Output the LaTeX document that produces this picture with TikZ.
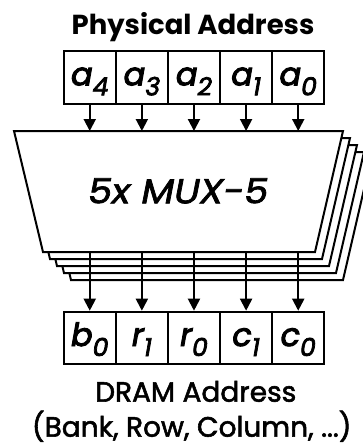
\documentclass[tikz,border=0pt]{standalone}
\usepackage{fontspec}
\usepackage{graphicx}
\setmainfont{Poppins}
\newfontfamily\medfont{Poppins}[FakeBold=2]
\newfontfamily\cellfont{Poppins}[FakeBold=3]
\usetikzlibrary{arrows.meta}
\newcommand{\sbx}[2]{#1\raisebox{-10pt}{\fontsize{25}{25}\selectfont #2}}
\begin{document}
\begin{tikzpicture}[x=1pt,y=-1pt,
  cell/.style={draw,line width=2pt,minimum width=52.1pt,minimum height=52.7pt,
    inner sep=0pt,text height=34.3pt,text depth=18.4pt,anchor=north west,
    font=\fontsize{32}{32}\selectfont\cellfont\itshape},
  arr/.style={line width=2pt,-{Triangle[width=12pt,length=12pt]}},
  layer/.style={draw,line width=2pt,fill=white,line join=miter},
  lbl/.style={anchor=base,inner sep=0pt}]
\useasboundingbox (0,0) rectangle (363,448);
% title
\node[lbl,font=\fontsize{27.5}{27.5}\selectfont\bfseries] (title) at (193,34.3) {Physical Address};
% top cells
\foreach \n/\s [count=\i from 0] in {a4/4,a3/3,a2/2,a1/1,a0/0}
  \node[cell] (\n) at ({62.7+52.12*\i},50) {\sbx{a}{\s}};
% stacked multiplexers
\foreach \k in {4,3,2,1,0}
  \draw[layer,shift={({7*\k},{7*\k})}] (14,131) -- (343,131) -- (315,252) -- (43,252) -- cycle;
\coordinate (mtop) at (14,131);
\coordinate (mbot) at (43,252);
\node[lbl] (mux) at (178.2,203.3) {\resizebox{180pt}{25pt}{\medfont\itshape 5x MUX-5}};
% bottom cells
\foreach \n/\l/\s [count=\i from 0] in {b0/b/0,r1/r/1,r0/r/0,c1/c/1,c0/c/0}
  \node[cell] (\n) at ({62.7+52.12*\i},310.7) {\sbx{\l}{\s}};
% arrows
\foreach \n in {a4,a3,a2,a1,a0}
  \draw[arr] (\n.south) -- (\n.south |- mtop);
\foreach \n in {b0,r1,r0,c1,c0}
  \draw[arr] (\n.north |- mbot) -- (\n.north);
% bottom labels
\node[lbl,font=\fontsize{28}{28}\selectfont\medfont] (dram) at (195.8,401.7) {DRAM Address};
\node[lbl,font=\fontsize{28}{28}\selectfont\medfont] (fields) at (191.7,436.7) {(Bank, Row, Column, ...)};
\end{tikzpicture}
\end{document}
